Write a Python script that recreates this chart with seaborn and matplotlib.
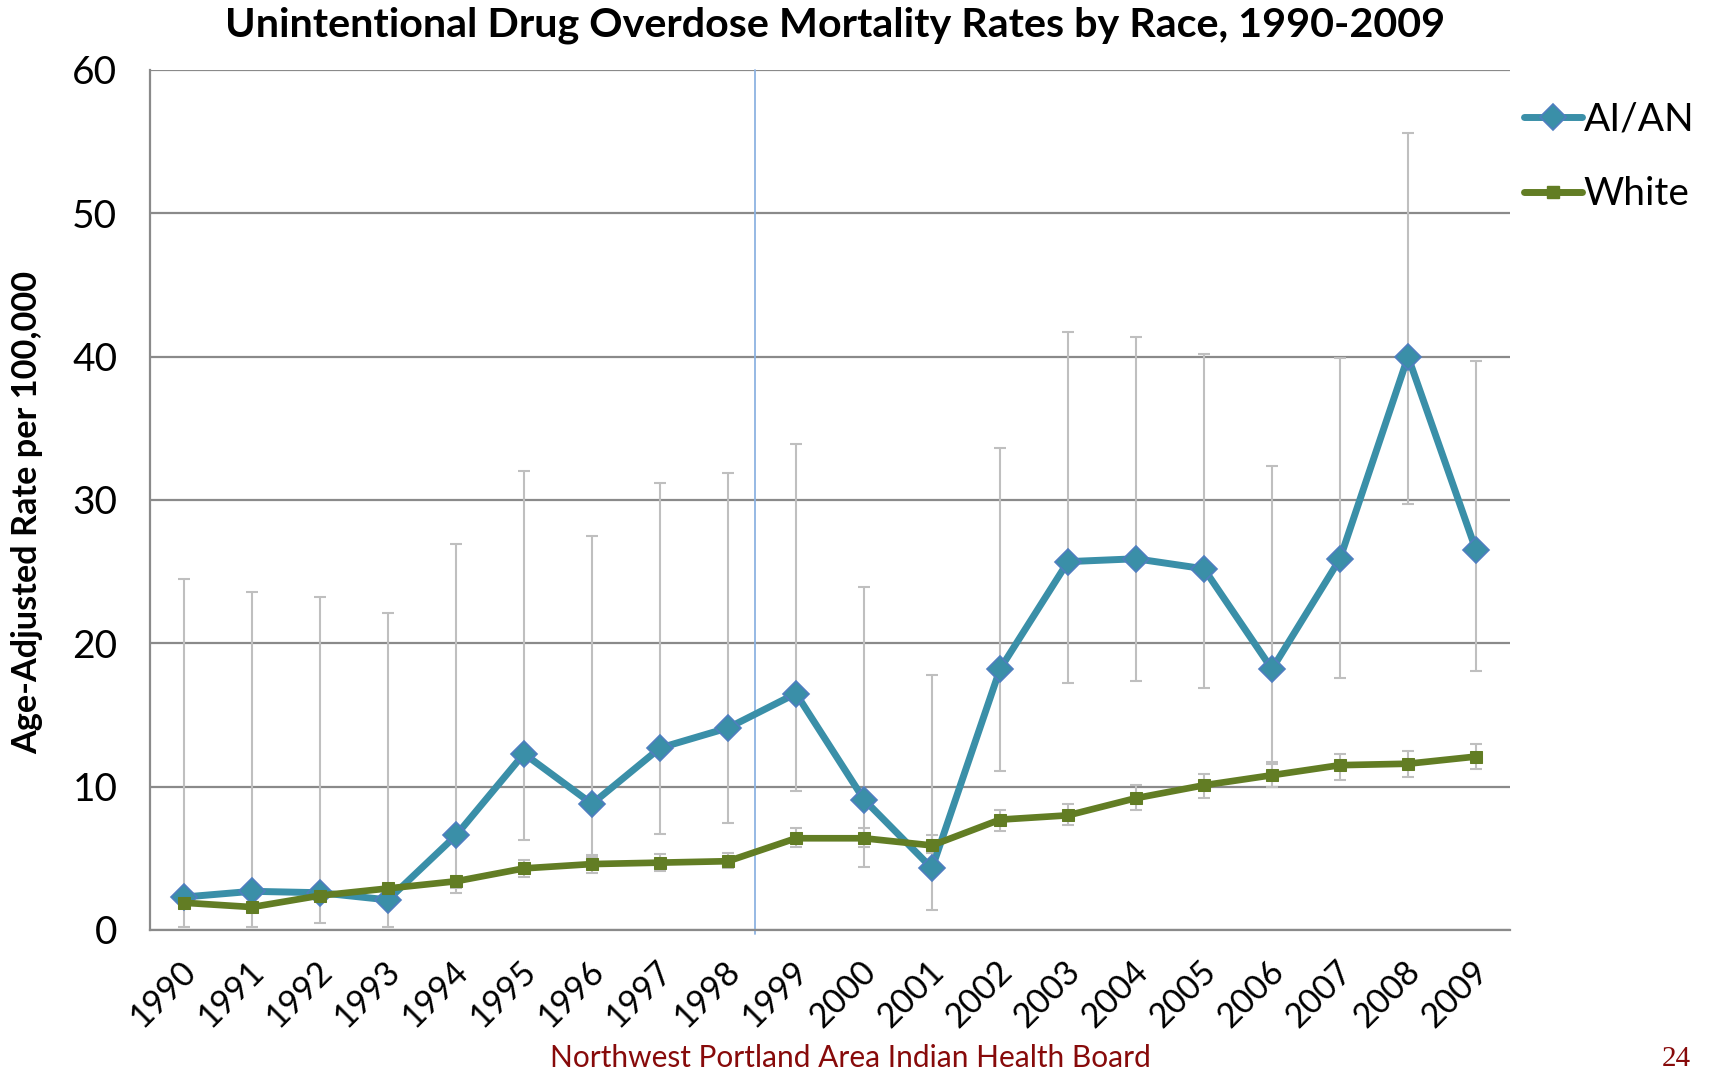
import numpy as np
import pandas as pd
import seaborn as sns
import matplotlib.pyplot as plt
import matplotlib.transforms as mtransforms
from matplotlib.lines import Line2D

years = list(range(1990, 2010))

# AI/AN age-adjusted rate and 95% CI
aian_rate = [2.3, 2.7, 2.6, 2.1, 6.6, 12.3, 8.8, 12.7, 14.1, 16.5,
             9.1, 4.3, 18.2, 25.7, 25.9, 25.2, 18.2, 25.9, 40.0, 26.5]
aian_upper = [24.5, 23.6, 23.2, 22.1, 26.9, 32.0, 27.5, 31.2, 31.9, 33.9,
              23.9, 17.8, 33.6, 41.7, 41.4, 40.2, 32.4, 39.9, 55.6, 39.7]
aian_lower = [0.2, 0.2, 0.5, 0.2, 2.6, 6.3, 5.1, 6.7, 7.5, 9.7,
              4.4, 1.4, 11.1, 17.2, 17.4, 16.9, 11.6, 17.6, 29.7, 18.1]

# White age-adjusted rate and 95% CI
white_rate = [1.9, 1.6, 2.4, 2.9, 3.4, 4.3, 4.6, 4.7, 4.8, 6.4,
              6.4, 5.9, 7.7, 8.0, 9.2, 10.1, 10.8, 11.5, 11.6, 12.1]
white_upper = [2.2, 1.9, 2.7, 3.2, 3.8, 4.9, 5.2, 5.3, 5.4, 7.1,
               7.1, 6.6, 8.4, 8.8, 10.1, 10.9, 11.7, 12.3, 12.5, 13.0]
white_lower = [1.6, 1.3, 2.1, 2.6, 2.9, 3.7, 4.0, 4.1, 4.3, 5.8,
               5.8, 5.4, 6.9, 7.3, 8.4, 9.2, 10.0, 10.5, 10.7, 11.2]

series_names = ['AI/AN', 'White']

df = pd.DataFrame({
    'year': years * 2,
    'rate': aian_rate + white_rate,
    'race': [series_names[0]] * 20 + [series_names[1]] * 20,
})

teal = '#3A8FA8'
diamond_edge = '#4F7EC0'
olive = '#627D24'
grid_grey = '#8A8A8A'
bar_grey = '#BFBFBF'
dark_red = '#870A0A'

sns.set_style('white')
plt.rcParams['font.family'] = ['Lato', 'DejaVu Sans']
plt.rcParams['text.color'] = 'black'

fig = plt.figure(figsize=(17.09, 10.71), dpi=100)
ax = fig.add_axes([150 / 1709, 1 - 930 / 1071, 1360 / 1709, 860 / 1071])

# error bars behind the lines
for rate, low, high in [(aian_rate, aian_lower, aian_upper), (white_rate, white_lower, white_upper)]:
    ax.errorbar(years, rate,
                yerr=[np.array(rate) - np.array(low), np.array(high) - np.array(rate)],
                fmt='none', ecolor=bar_grey, elinewidth=1.5, capsize=4.3, capthick=1.5, zorder=2)

n_before = len(ax.lines)
sns.lineplot(data=df, x='year', y='rate', hue='race', style='race',
             palette={'AI/AN': teal, 'White': olive},
             markers={'AI/AN': 'D', 'White': 's'}, dashes=False,
             linewidth=5, markersize=12, ax=ax, legend=False, zorder=4)
aian_line, white_line = ax.lines[n_before:n_before + 2]
aian_line.set_markeredgecolor(diamond_edge)
aian_line.set_markeredgewidth(1.2)
aian_line.set_markersize(13.5)
white_line.set_markeredgecolor(olive)
white_line.set_markersize(9)
white_line.set_linewidth(4.8)

# vertical reference line
ax.axvline(1998.4, ymin=-0.005, ymax=1, color='#8DB3E2', linewidth=1.3, zorder=1, clip_on=False)

ax.set_xlim(1989.5, 2009.5)
ax.set_ylim(0, 60)
ax.set_yticks(range(0, 61, 10))
ax.yaxis.grid(True, color=grid_grey, linewidth=1.6)
ax.xaxis.grid(False)
ax.set_axisbelow(True)

ax.set_xticks(np.arange(1989.5, 2010, 1))
ax.set_xticklabels([])
ax.set_xticks(years, minor=True)
ax.set_xticklabels([str(y) for y in years], minor=True, rotation=45, ha='right',
                   va='center', rotation_mode='anchor', fontsize=24.5, color='black')
ax.tick_params(axis='x', which='minor', length=0, pad=26)
ax.tick_params(axis='x', which='major', length=10, width=1.6, color=grid_grey, direction='out')
ax.tick_params(axis='y', length=9.5, width=1.6, color=grid_grey, direction='out',
               labelsize=28, labelcolor='black', pad=14)
shift = mtransforms.ScaledTranslation(7 / 100, 0, fig.dpi_scale_trans)
for t in ax.get_xticklabels(minor=True):
    t.set_transform(t.get_transform() + shift)

for side in ['top', 'right']:
    ax.spines[side].set_visible(False)
for side in ['left', 'bottom']:
    ax.spines[side].set_color(grid_grey)
    ax.spines[side].set_linewidth(1.6)

ax.set_xlabel('')
ax.set_ylabel('')
fig.text(27 / 1709, 1 - 512 / 1071, 'Age-Adjusted Rate per 100,000', rotation=90,
         ha='center', va='center', fontsize=24.7, fontweight='bold', color='black')

fig.text(835 / 1709, 1 - 25 / 1071, 'Unintentional Drug Overdose Mortality Rates by Race, 1990-2009',
         ha='center', va='center', fontsize=29.7, fontweight='bold', color='black')

handles = [
    Line2D([], [], color=teal, linewidth=5, marker='D', markersize=13.5,
           markeredgecolor=diamond_edge, markeredgewidth=1.2, solid_capstyle='round'),
    Line2D([], [], color=olive, linewidth=5, marker='s', markersize=9,
           markeredgecolor=olive, solid_capstyle='round'),
]
fig.legend(handles, series_names, loc='upper left', bbox_to_anchor=(1508 / 1709, 1 - 86 / 1071),
           frameon=False, fontsize=28, handlelength=1.5, handletextpad=0.05,
           labelspacing=1.0, borderaxespad=0, markerscale=1)

fig.text(850 / 1709, 1 - 1058 / 1071, 'Northwest Portland Area Indian Health Board',
         ha='center', va='center', fontsize=21.5, color=dark_red)
fig.text(1676 / 1709, 1 - 1059 / 1071, '24', ha='center', va='center', fontsize=21,
         color=dark_red, family=['Liberation Serif', 'DejaVu Serif'])

fig.savefig('out.png', dpi=100)
